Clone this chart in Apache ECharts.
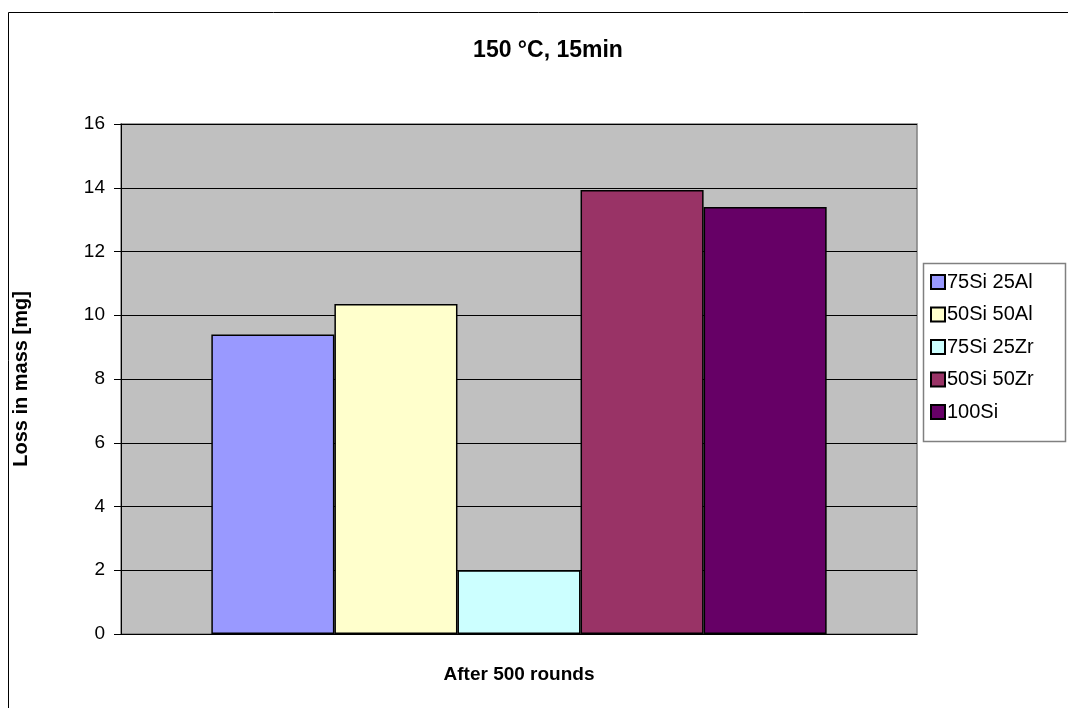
<!DOCTYPE html>
<html>
<head>
<meta charset="utf-8">
<script src="https://cdn.jsdelivr.net/npm/echarts@6/dist/echarts.min.js"></script>
<style>
  html, body { margin: 0; padding: 0; background: #fff; }
  #chart { width: 1068px; height: 708px; }
</style>
</head>
<body>
<div id="chart"></div>
<script>
// Mass loss after 500 rounds at 150 °C, 15 min
const categories = ['After 500 rounds'];
const seriesNames = ['75Si 25Al', '50Si 50Al', '75Si 25Zr', '50Si 50Zr', '100Si'];
const seriesValues = [9.4, 10.35, 2.0, 13.93, 13.4];
const seriesColors = ['#9999FF', '#FFFFCC', '#CCFFFF', '#993366', '#660066'];
const yTicks = { min: 0, max: 16, interval: 2 };

const FONT = 'Liberation Sans, Arial, sans-serif';

const chart = echarts.init(document.getElementById('chart'), null, { renderer: 'canvas' });

const series = seriesNames.map((name, i) => ({
  name: name,
  type: 'bar',
  data: [seriesValues[i]],
  barGap: '0%',
  barCategoryGap: '22.7%',
  itemStyle: { color: seriesColors[i], borderColor: '#000', borderWidth: 1.5 },
  emphasis: { disabled: true }
}));

chart.setOption({
  animation: false,
  backgroundColor: '#ffffff',
  textStyle: { fontFamily: FONT },
  title: {
    text: '150 °C, 15min',
    left: 543,
    top: 34,
    textAlign: 'center',
    textStyle: { fontFamily: FONT, fontSize: 23, fontWeight: 'bold', color: '#000' }
  },
  graphic: [
    {
      type: 'rect',
      shape: { x: 8.5, y: 12.5, width: 1200, height: 900 },
      style: { fill: 'none', stroke: '#000', lineWidth: 1 },
      silent: true,
      z: -10
    },
    {
      type: 'rect',
      shape: { x: 923.5, y: 263.5, width: 142, height: 178 },
      style: { fill: '#fff', stroke: '#808080', lineWidth: 1.5 },
      silent: true,
      z: 0
    }
  ],
  legend: {
    orient: 'vertical',
    left: 924,
    top: 272,
    padding: [0, 0, 0, 6],
    itemWidth: 14,
    itemHeight: 14,
    itemGap: 12.5,
    icon: 'rect',
    selectedMode: false,
    textStyle: { fontFamily: FONT, fontSize: 20, color: '#000', padding: [0, 0, 0, -3] },
    data: seriesNames,
    z: 5
  },
  grid: {
    left: 121,
    top: 124,
    right: 151,
    bottom: 74,
    show: true,
    backgroundColor: '#C0C0C0',
    borderColor: '#808080',
    borderWidth: 1.5
  },
  xAxis: {
    type: 'category',
    data: categories,
    name: categories[0],
    nameLocation: 'middle',
    nameGap: 31,
    nameTextStyle: { fontFamily: FONT, fontSize: 19, fontWeight: 'bold', color: '#000' },
    axisLine: { show: true, lineStyle: { color: '#000', width: 1 } },
    axisTick: { show: false },
    axisLabel: { show: false },
    splitLine: { show: false }
  },
  yAxis: {
    type: 'value',
    min: yTicks.min,
    max: yTicks.max,
    interval: yTicks.interval,
    name: 'Loss in mass [mg]',
    nameLocation: 'middle',
    nameRotate: 90,
    nameGap: 90,
    nameTextStyle: { fontFamily: FONT, fontSize: 20, fontWeight: 'bold', color: '#000' },
    axisLine: { show: true, lineStyle: { color: '#000', width: 1 } },
    axisTick: { show: true, length: 7, inside: false, lineStyle: { color: '#000' } },
    axisLabel: { fontFamily: FONT, fontSize: 19, color: '#000', margin: 16 },
    splitLine: { show: true, lineStyle: { color: '#000', width: 1 } }
  },
  series: series
});
</script>
</body>
</html>
